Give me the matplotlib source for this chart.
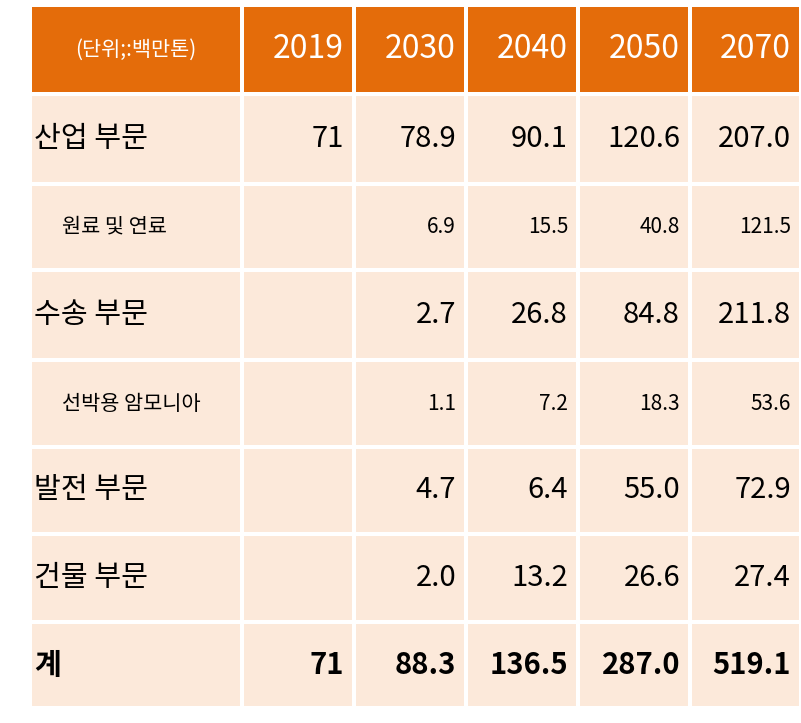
import matplotlib
matplotlib.use('Agg')
import matplotlib.pyplot as plt
from matplotlib.patches import Rectangle

FONTS = ['Noto Sans CJK KR', 'Noto Sans CJK JP', 'Noto Sans CJK SC', 'DejaVu Sans']
plt.rcParams['font.family'] = FONTS

# datos de la tabla
header_label = '(단위;:백만톤)'
years = ['2019', '2030', '2040', '2050', '2070']
row_names = ['산업 부문', '원료 및 연료', '수송 부문', '선박용 암모니아',
             '발전 부문', '건물 부문', '계']
values = [
    ['71', '78.9', '90.1', '120.6', '207.0'],
    ['', '6.9', '15.5', '40.8', '121.5'],
    ['', '2.7', '26.8', '84.8', '211.8'],
    ['', '1.1', '7.2', '18.3', '53.6'],
    ['', '4.7', '6.4', '55.0', '72.9'],
    ['', '2.0', '13.2', '26.6', '27.4'],
    ['71', '88.3', '136.5', '287.0', '519.1'],
]
sub_rows = [1, 3]
total_row = 6

W, H = 801, 723
fig = plt.figure(figsize=(W / 100, H / 100), dpi=100)
ax = fig.add_axes([0, 0, 1, 1])
ax.set_xlim(0, W)
ax.set_ylim(H, 0)
ax.axis('off')

col_edges = [30, 242, 354, 466, 578, 690, 801]
row_edges = [5, 94, 184, 270, 360, 447, 534, 622, 708]
gap = 2
ORANGE = '#E46C0A'
PEACH = '#FCE9DA'

for r in range(len(row_edges) - 1):
    y0, y1 = row_edges[r], row_edges[r + 1]
    for c in range(len(col_edges) - 1):
        x0, x1 = col_edges[c], col_edges[c + 1]
        color = ORANGE if r == 0 else PEACH
        ax.add_patch(Rectangle((x0 + gap, y0 + gap), x1 - x0 - 2 * gap,
                               y1 - y0 - 2 * gap, color=color, lw=0))

# cabecera
ym = (row_edges[0] + row_edges[1]) / 2
ax.text((col_edges[0] + col_edges[1]) / 2, ym, header_label, color='white',
        fontsize=15, ha='center', va='center')
for i, y in enumerate(years):
    ax.text(col_edges[i + 2] - 10, ym, y, color='white', fontsize=23,
            ha='right', va='center')

# filas
for r, name in enumerate(row_names):
    ym = (row_edges[r + 1] + row_edges[r + 2]) / 2
    sub = r in sub_rows
    bold = 'bold' if r == total_row else 'normal'
    fs = 15 if sub else 21
    style = 'italic' if sub else 'normal'
    xoff = 32 if sub else 4
    ax.text(col_edges[0] + xoff, ym, name, fontsize=fs, ha='left', va='center',
            fontweight=bold, style=style, color='black')
    for c, v in enumerate(values[r]):
        ax.text(col_edges[c + 2] - 10, ym, v, fontsize=fs, ha='right',
                va='center', fontweight=bold, style=style, color='black')

plt.savefig('out.png', dpi=100)
